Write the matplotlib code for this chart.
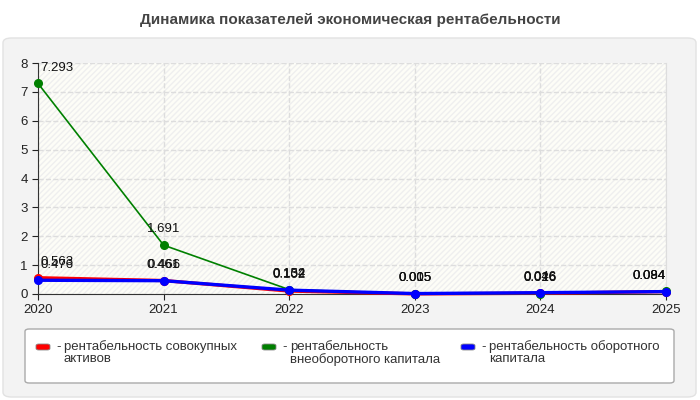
import matplotlib
matplotlib.use('Agg')
from matplotlib import pyplot as plt
from matplotlib.patches import FancyBboxPatch, Rectangle

plt.rcParams['font.family'] = ['Liberation Sans', 'DejaVu Sans']

years = [2020, 2021, 2022, 2023, 2024, 2025]
red_vals = [0.563, 0.466, 0.102, 0.005, 0.026, 0.084]
green_vals = [7.293, 1.691, 0.152, 0.005, 0.016, 0.094]
blue_vals = [0.476, 0.461, 0.134, 0.015, 0.046, 0.084]
series_names = ['рентабельность совокупных\nактивов',
                'рентабельность\nвнеоборотного капитала',
                'рентабельность оборотного\nкапитала']
colors = ['#ff0000', '#008000', '#0000ff']
widths = [2.4, 1.2, 2.4]

fig = plt.figure(figsize=(7, 4), dpi=100)
fig.patch.set_facecolor('white')

# outer panel
panel = FancyBboxPatch((3 / 700, 3 / 400), 693 / 700, 359 / 400,
                       boxstyle='round,pad=0,rounding_size=0.012',
                       transform=fig.transFigure, facecolor='#f3f3f3',
                       edgecolor='#e2e2e2', linewidth=1, zorder=-5)
fig.patches.append(panel)

fig.text(0.5, 1 - 20 / 400, 'Динамика показателей экономическая рентабельности',
         ha='center', va='center', fontsize=11, fontweight='bold', color='#444444')

ax = fig.add_axes([38 / 700, 1 - 294 / 400, 628 / 700, 231 / 400])
ax.set_facecolor('#fdfdf7')
ax.add_patch(Rectangle((0, 0), 1, 1, transform=ax.transAxes, facecolor='none',
                       edgecolor='#efefef', hatch='//////', linewidth=0, zorder=0))

ax.set_xlim(2020, 2025)
ax.set_ylim(0, 8)
ax.set_xticks(years)
ax.set_yticks(range(0, 9))
ax.grid(True, color='#dddddd', linestyle='--', linewidth=1)
ax.set_axisbelow(True)
ax.spines['top'].set_visible(False)
ax.spines['right'].set_color('#dddddd')
for s in ['left', 'bottom']:
    ax.spines[s].set_color('#333333')
ax.tick_params(labelsize=9.5, colors='#222222', length=4)

all_vals = [red_vals, green_vals, blue_vals]
for vals, c, lw in zip(all_vals, colors, widths):
    ax.plot(years, vals, color=c, linewidth=lw, marker='o', markersize=5.5,
            clip_on=False, zorder=3)
    for i, (x, v) in enumerate(zip(years, vals)):
        ha = 'left' if i == 0 else ('right' if i == len(years) - 1 else 'center')
        dx = 2 if i == 0 else 0
        ax.annotate(f'{v:g}', (x, v), xytext=(dx, 7), textcoords='offset points',
                    ha=ha, va='bottom', fontsize=9.5, color='#111111', zorder=4)

# legend box
leg = FancyBboxPatch((25 / 700, 1 - 383 / 400), 649 / 700, 54 / 400,
                     boxstyle='round,pad=0,rounding_size=0.006',
                     transform=fig.transFigure, facecolor='white',
                     edgecolor='#aaaaaa', linewidth=1)
fig.patches.append(leg)
leg_x = [36, 262, 461]
for x, name, c in zip(leg_x, series_names, colors):
    fig.patches.append(FancyBboxPatch((x / 700, 1 - 350 / 400), 14 / 700, 6 / 400,
                                      boxstyle='round,pad=0,rounding_size=0.004',
                                      transform=fig.transFigure, facecolor=c,
                                      edgecolor='#888888', linewidth=0.6))
    fig.text((x + 20) / 700, 1 - 347 / 400, '-', ha='left', va='center',
             fontsize=9.5, color='#333333')
    fig.text((x + 28) / 700, 1 - 340 / 400, name, ha='left', va='top',
             fontsize=9.5, color='#333333', linespacing=1.05)

fig.savefig('out.png', dpi=100)
